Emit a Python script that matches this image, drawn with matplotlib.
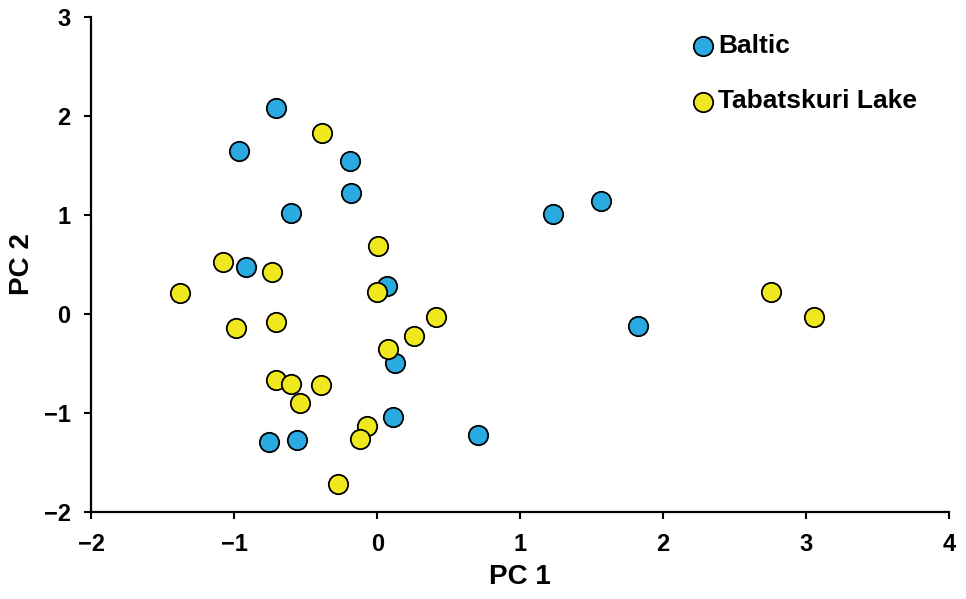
import matplotlib
matplotlib.use("Agg")
import matplotlib.pyplot as plt

# PCA scores
baltic_pc1 = [-0.707, -0.966, -0.191, -0.184, -0.604, -0.921, 0.070, 0.126,
              0.110, -0.758, -0.560, 0.704, 1.229, 1.567, 1.824]
baltic_pc2 = [2.076, 1.644, 1.547, 1.217, 1.021, 0.475, 0.280, -0.501,
              -1.044, -1.300, -1.280, -1.223, 1.008, 1.142, -0.120]

tabat_pc1 = [-0.389, -1.082, -0.735, -1.381, -0.989, -0.709, 0.007, -0.004,
             0.408, 0.254, 0.075, -0.709, -0.606, -0.392, -0.543, -0.072,
             -0.119, -0.277, 2.757, 3.057]
tabat_pc2 = [1.823, 0.526, 0.421, 0.206, -0.148, -0.081, 0.687, 0.216,
             -0.030, -0.225, -0.357, -0.670, -0.711, -0.724, -0.906, -1.135,
             -1.262, -1.718, 0.222, -0.033]

x_ticks = [-2, -1, 0, 1, 2, 3, 4]
y_ticks = [-2, -1, 0, 1, 2, 3]

plt.rcParams["font.family"] = ["Liberation Sans", "DejaVu Sans"]
plt.rcParams["font.weight"] = "bold"

fig = plt.figure(figsize=(9.66, 5.99), dpi=100)
ax = fig.add_axes([0.0947, 0.1457, 0.8877, 0.8259])

ax.scatter(baltic_pc1, baltic_pc2, s=195, c="#29ABE2", edgecolors="black",
           linewidths=1.3, label="Baltic", zorder=3)
ax.scatter(tabat_pc1, tabat_pc2, s=195, c="#F0E81E", edgecolors="black",
           linewidths=1.3, label="Tabatskuri Lake", zorder=4)

ax.set_xlim(-2, 4)
ax.set_ylim(-2, 3)
ax.set_xticks(x_ticks)
ax.set_yticks(y_ticks)
ax.set_xticklabels([f"{t}".replace("-", "\u2212") for t in x_ticks])
ax.set_yticklabels([f"{t}".replace("-", "\u2212") for t in y_ticks])
ax.tick_params(direction="out", length=5, width=1.5, labelsize=17, pad=10)
for side in ["top", "right"]:
    ax.spines[side].set_visible(False)
for side in ["left", "bottom"]:
    ax.spines[side].set_linewidth(1.6)

ax.set_xlabel("PC 1", fontsize=20, fontweight="bold", labelpad=6)
ax.set_ylabel("PC 2", fontsize=20, fontweight="bold", labelpad=6)

ax.legend(loc="upper left", bbox_to_anchor=(0.701, 0.966), frameon=False,
          fontsize=19, labelspacing=1.2, handlelength=0.8, handletextpad=0.17,
          borderpad=0, borderaxespad=0)

fig.savefig("out.png", dpi=100)
